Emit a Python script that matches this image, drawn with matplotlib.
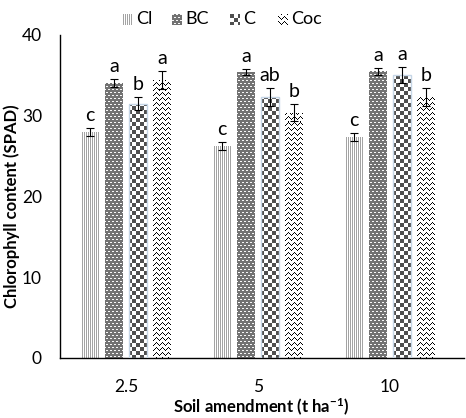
import numpy as np
import matplotlib.pyplot as plt

plt.rcParams['font.family'] = ['Lato', 'DejaVu Sans']
plt.rcParams['mathtext.default'] = 'regular'

rates = ['2.5', '5', '10']
treatments = ['Cl', 'BC', 'C', 'Coc']
cl = [28.0, 26.3, 27.4]
bc = [34.0, 35.4, 35.5]
c = [31.5, 32.3, 35.0]
coc = [34.4, 30.4, 32.3]
cl_err = [0.5, 0.5, 0.5]
bc_err = [0.5, 0.4, 0.4]
c_err = [0.8, 1.1, 1.0]
coc_err = [1.1, 1.1, 1.1]
cl_let = ['c', 'c', 'c']
bc_let = ['a', 'a', 'a']
c_let = ['b', 'ab', 'a']
coc_let = ['a', 'b', 'b']

W, H = 466, 418
L, R, T, B = 60, 464, 35, 358   # axes box in pixels


# pixel patterns used as bar fills
def pat_lines(rr, cc):
    img = np.ones(rr.shape + (3,))
    img[cc % 2 == 0] = 0.64
    return img


def pat_dense(rr, cc):
    img = np.full(rr.shape + (3,), 0.45)
    shift = 2 * ((rr // 3) % 2)
    img[(rr % 3 == 0) & (((cc + shift) % 4) < 2)] = 0.97
    return img


def pat_check(rr, cc):
    img = np.ones(rr.shape + (3,))
    img[((rr // 4) + (cc // 4)) % 2 == 0] = 0.31
    return img


def pat_zigzag(rr, cc):
    img = np.ones(rr.shape + (3,))
    tri = np.abs(cc % 6 - 3)
    img[(rr + tri) % 5 == 0] = 0.0
    return img


patterns = [pat_lines, pat_dense, pat_check, pat_zigzag]
edges = ['none', 'none', '#c6d6e6', 'none']
values = [cl, bc, c, coc]
errors = [cl_err, bc_err, c_err, coc_err]
letters = [cl_let, bc_let, c_let, coc_let]

fig = plt.figure(figsize=(W / 100, H / 100), dpi=100)
ax = fig.add_axes([L / W, 1 - B / H, (R - L) / W, (B - T) / H])

xmin, xmax = -0.5, (R - L) / 132 - 0.5
ymin, ymax = 0, 40
rr, cc = np.mgrid[0:B - T, 0:R - L]

x = np.arange(len(rates))
offsets = [-0.273, -0.091, 0.091, 0.273]
width = 0.135

for k in range(4):
    bars = ax.bar(x + offsets[k], values[k], width=width, color='none',
                  edgecolor=edges[k], linewidth=1.0, zorder=3)
    fill = patterns[k](rr, cc)
    for b in bars:
        im = ax.imshow(fill, extent=(xmin, xmax, ymin, ymax), origin='upper',
                       interpolation='nearest', aspect='auto', zorder=2)
        im.set_clip_path(b)
    ax.errorbar(x + offsets[k], values[k], yerr=errors[k], fmt='none',
                ecolor='black', elinewidth=0.8, capsize=3, capthick=0.8, zorder=4)
    for i in range(len(rates)):
        ax.text(x[i] + offsets[k], values[k][i] + errors[k][i] + 0.5, letters[k][i],
                ha='center', va='bottom', fontsize=14, zorder=5)

ax.set_xlim(xmin, xmax)
ax.set_ylim(ymin, ymax)
ax.set_yticks([0, 10, 20, 30, 40])
ax.set_xticks(x)
ax.set_xticklabels(rates)
ax.tick_params(axis='y', length=0, pad=13, labelsize=12.5)
ax.tick_params(axis='x', length=0, pad=15, labelsize=12.5)
for s in ['top', 'right']:
    ax.spines[s].set_visible(False)
for s in ['left', 'bottom']:
    ax.spines[s].set_linewidth(1.0)
    ax.spines[s].set_color('black')

fig.text(12 / W, 1 - 206 / H, 'Chlorophyll content (SPAD)', rotation=90,
         ha='center', va='center', fontsize=12, fontweight='bold')
fig.text(261 / W, 1 - 407 / H, 'Soil amendment (t ha$^{-1}$)',
         ha='center', va='center', fontsize=12, fontweight='bold')

# legend drawn as small pattern swatches
sw_x = [123, 172, 230, 278]
sr, sc = np.mgrid[0:11, 0:10]
for k in range(4):
    fig.figimage(patterns[k](sr, sc), xo=sw_x[k], yo=H - 25, origin='upper', zorder=5)
    fig.text((sw_x[k] + 13) / W, 1 - 19 / H, treatments[k], ha='left', va='center',
             fontsize=13)

fig.savefig('out.png', dpi=100)
